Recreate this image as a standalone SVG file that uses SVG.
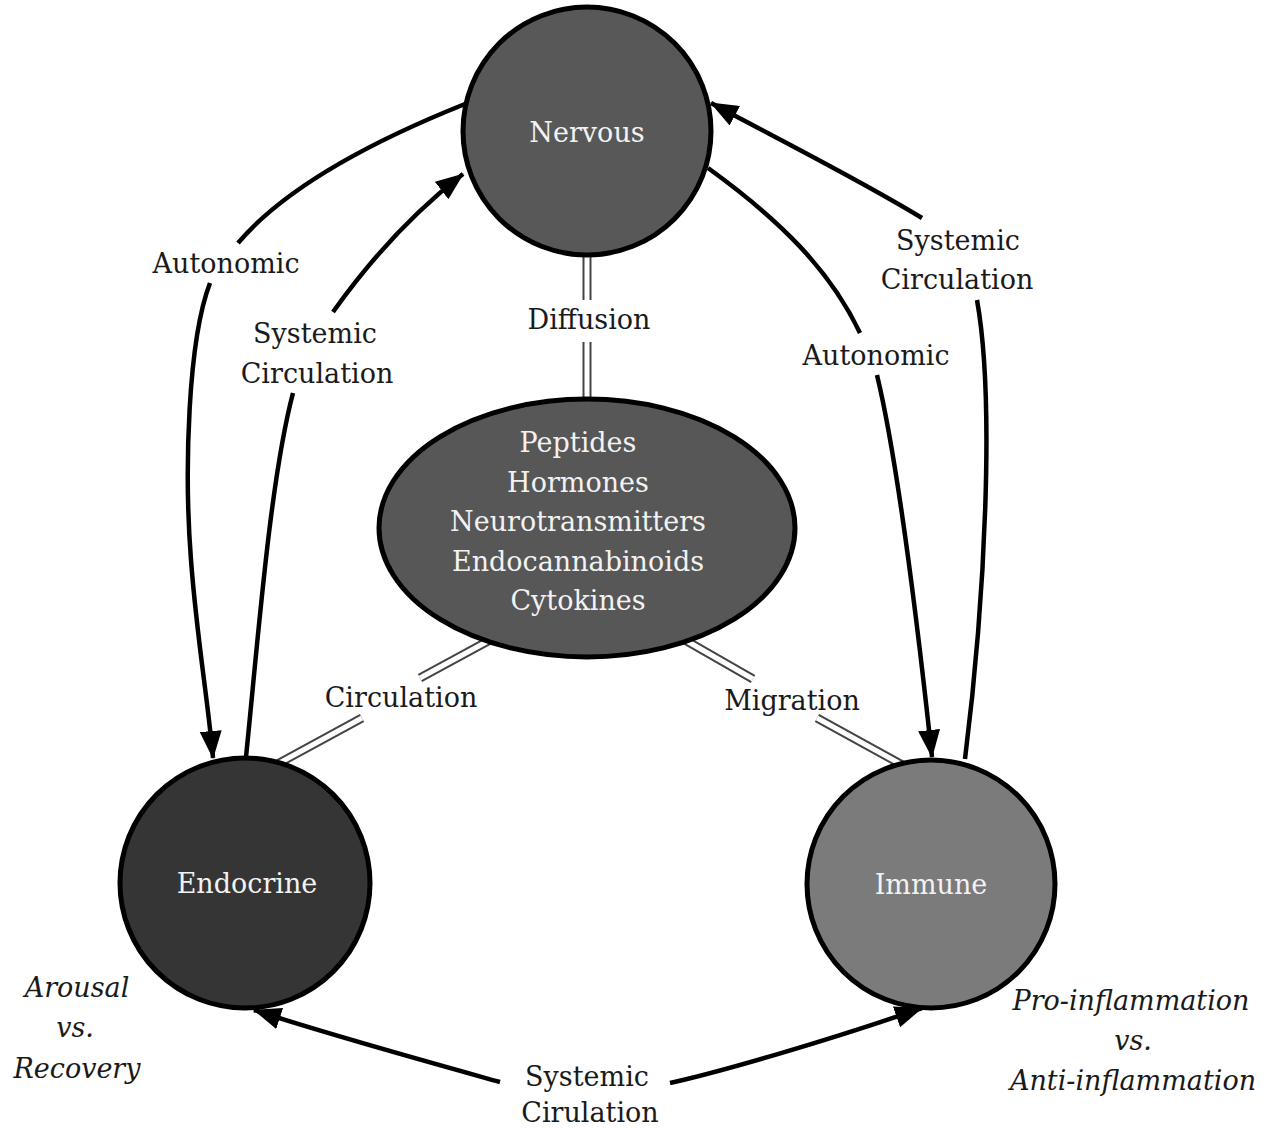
<svg xmlns="http://www.w3.org/2000/svg" width="1266" height="1130" viewBox="0 0 1266 1130">
<defs>
<marker id="arr" markerUnits="userSpaceOnUse" markerWidth="30" markerHeight="24" refX="27" refY="11" orient="auto">
<path d="M0,0 L28,11 L0,22 z" fill="#000"/>
</marker>
<style>
.edge{fill:none;stroke:#000;stroke-width:4.5;stroke-linecap:butt}
.dbl-o{fill:none;stroke:#444;stroke-width:9}
.dbl-i{fill:none;stroke:#fff;stroke-width:5}
.node{stroke:#000;stroke-width:5}
.lbl{font-family:"DejaVu Serif","Liberation Serif",serif;font-size:27px;fill:#1a1a1a;text-anchor:middle}
.in{font-family:"DejaVu Serif","Liberation Serif",serif;font-size:27px;fill:#f2f2f2;text-anchor:middle}
.it{font-family:"DejaVu Serif","Liberation Serif",serif;font-size:27px;font-style:italic;fill:#1a1a1a;text-anchor:middle}
</style>
</defs>
<rect width="1266" height="1130" fill="#fff"/>
<g id="connectors">
<path class="dbl-o" d="M587,250 L587,300 M587,342 L587,402 M490,640 L420,678 M362,718 L272,767 M685,640 L753,679 M817,718 L906,767"/>
<path class="dbl-i" d="M587,250 L587,300 M587,342 L587,402 M490,640 L420,678 M362,718 L272,767 M685,640 L753,679 M817,718 L906,767"/>
<path class="edge" d="M465,104 Q300,170 238,243"/>
<path class="edge" marker-end="url(#arr)" d="M210,283 C188,340 184,470 191,560 C197,640 208,700 213,758"/>
<path class="edge" d="M246,757 C258,640 270,480 293,393"/>
<path class="edge" marker-end="url(#arr)" d="M333,312 C370,260 410,215 463,174"/>
<path class="edge" d="M965,759 C985,600 995,400 977,300"/>
<path class="edge" marker-end="url(#arr)" d="M922,218 C860,180 780,140 711,103"/>
<path class="edge" d="M708,168 C780,220 830,270 860,333"/>
<path class="edge" marker-end="url(#arr)" d="M877,375 C895,450 915,600 932,757"/>
<path class="edge" marker-end="url(#arr)" d="M500,1082 C450,1068 330,1035 254,1010"/>
<path class="edge" marker-end="url(#arr)" d="M670,1083 C720,1072 830,1040 922,1008"/>
</g>
<g id="nervous">
<circle class="node" cx="587" cy="131" r="124" fill="#585858"/>
<text class="in" x="587" y="142">Nervous</text>
</g>
<g id="molecules">
<ellipse class="node" cx="587" cy="528" rx="208" ry="129" fill="#575757"/>
<text class="in" x="578" y="452">Peptides</text>
<text class="in" x="578" y="492">Hormones</text>
<text class="in" x="578" y="531">Neurotransmitters</text>
<text class="in" x="578" y="571">Endocannabinoids</text>
<text class="in" x="578" y="610">Cytokines</text>
</g>
<g id="endocrine">
<circle class="node" cx="245" cy="883" r="125" fill="#353535"/>
<text class="in" x="247" y="893">Endocrine</text>
</g>
<g id="immune">
<circle class="node" cx="931" cy="884" r="124" fill="#7b7b7b"/>
<text class="in" x="931" y="894">Immune</text>
</g>
<g id="labels">
<text class="lbl" x="589" y="329">Diffusion</text>
<text class="lbl" x="226" y="273">Autonomic</text>
<text class="lbl" x="315" y="343">Systemic</text>
<text class="lbl" x="317" y="383">Circulation</text>
<text class="lbl" x="958" y="250">Systemic</text>
<text class="lbl" x="957" y="289">Circulation</text>
<text class="lbl" x="876" y="365">Autonomic</text>
<text class="lbl" x="401" y="707">Circulation</text>
<text class="lbl" x="792" y="710">Migration</text>
<text class="lbl" x="587" y="1086">Systemic</text>
<text class="lbl" x="590" y="1122">Cirulation</text>
<text class="it" x="77" y="997">Arousal</text>
<text class="it" x="75" y="1037">vs.</text>
<text class="it" x="77" y="1078">Recovery</text>
<text class="it" x="1131" y="1010">Pro-inflammation</text>
<text class="it" x="1133" y="1050">vs.</text>
<text class="it" x="1133" y="1090">Anti-inflammation</text>
</g>
</svg>
